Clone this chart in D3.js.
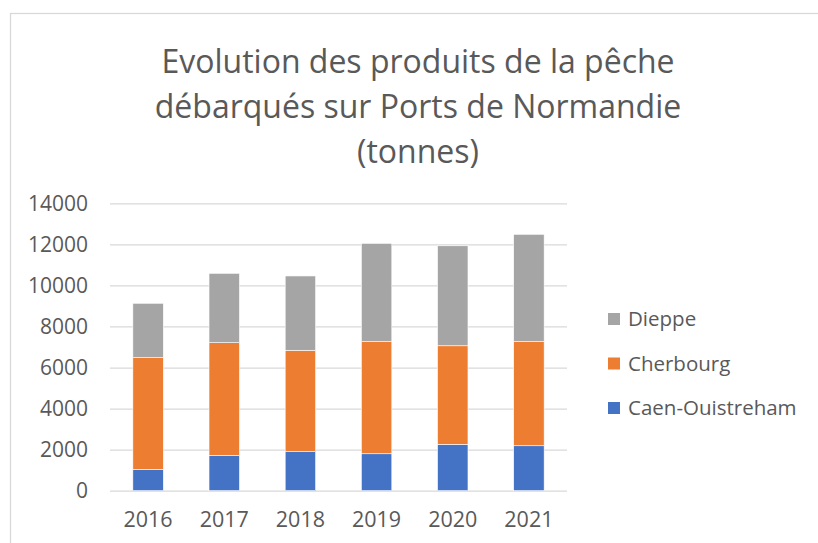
<!DOCTYPE html>
<html><head><meta charset="utf-8">
<script src="https://cdn.jsdelivr.net/npm/d3@7/dist/d3.min.js"></script>
<style>body{margin:0;background:#fff}svg{display:block}text{font-family:"Open Sans",sans-serif;fill:#595959}</style>
</head><body><svg id="c" width="818" height="543"></svg>
<script>
const years = ["2016","2017","2018","2019","2020","2021"];
const seriesNames = ["Caen-Ouistreham","Cherbourg","Dieppe"];
const caen = [1040,1720,1900,1800,2260,2190];
const cherbourg = [5440,5490,4940,5460,4800,5070];
const dieppe = [2650,3380,3620,4790,4870,5230];
const yTicks = [0,2000,4000,6000,8000,10000,12000,14000];
const colors = ["#4472C4","#ED7D31","#A5A5A5"];
const titleLines = ["Evolution des produits de la pêche","débarqués sur Ports de Normandie","(tonnes)"];

const svg = d3.select("#c");
svg.append("rect").attr("x",10.5).attr("y",13.5).attr("width",830).attr("height",560)
  .attr("fill","none").attr("stroke","#d9d9d9").attr("stroke-width",1.3);

const rows = years.map((y,i)=>({year:y,"Caen-Ouistreham":caen[i],"Cherbourg":cherbourg[i],"Dieppe":dieppe[i]}));
const stack = d3.stack().keys(seriesNames)(rows);

const x = d3.scaleBand().domain(years).range([110,567]).paddingInner(0.6).paddingOuter(0.3);
const y = d3.scaleLinear().domain([0,14000]).range([490.7,203.3]);

const yAxis = d3.axisLeft(y).tickValues(yTicks).tickSize(-(567-110)).tickFormat(d3.format("d")).tickPadding(22);
const ga = svg.append("g").attr("transform","translate(110,0)").call(yAxis);
ga.select(".domain").remove();
ga.selectAll(".tick line").attr("stroke","#d9d9d9").attr("stroke-width",1.3);
ga.selectAll(".tick text").attr("font-size",21).attr("fill","#595959");

svg.append("g").selectAll("g").data(stack).join("g").attr("fill",(d,i)=>colors[i])
  .selectAll("rect").data(d=>d).join("rect")
  .attr("x",d=>x(d.data.year)).attr("width",x.bandwidth())
  .attr("y",d=>y(d[1])).attr("height",d=>y(d[0])-y(d[1]))
  .attr("stroke","#fff").attr("stroke-width",0.6);

const xAxis = d3.axisBottom(x).tickSize(0).tickPadding(21);
const gx = svg.append("g").attr("transform","translate(0,490.7)").call(xAxis);
gx.select(".domain").remove();
gx.selectAll(".tick text").attr("font-size",21.5).attr("fill","#595959");

svg.append("g").selectAll("text").data(titleLines).join("text")
  .attr("x",418).attr("y",(d,i)=>73+i*45).attr("text-anchor","middle")
  .attr("font-size",32).text(d=>d);

const legOrder = [2,1,0];
const lg = svg.append("g").selectAll("g").data(legOrder).join("g")
  .attr("transform",(d,i)=>`translate(608,${319+i*44.5})`);
lg.append("rect").attr("x",0).attr("y",-6).attr("width",12).attr("height",12).attr("fill",d=>colors[d]);
lg.append("text").attr("x",20).attr("y",7).attr("font-size",20.5).text(d=>seriesNames[d]);
</script></body></html>
